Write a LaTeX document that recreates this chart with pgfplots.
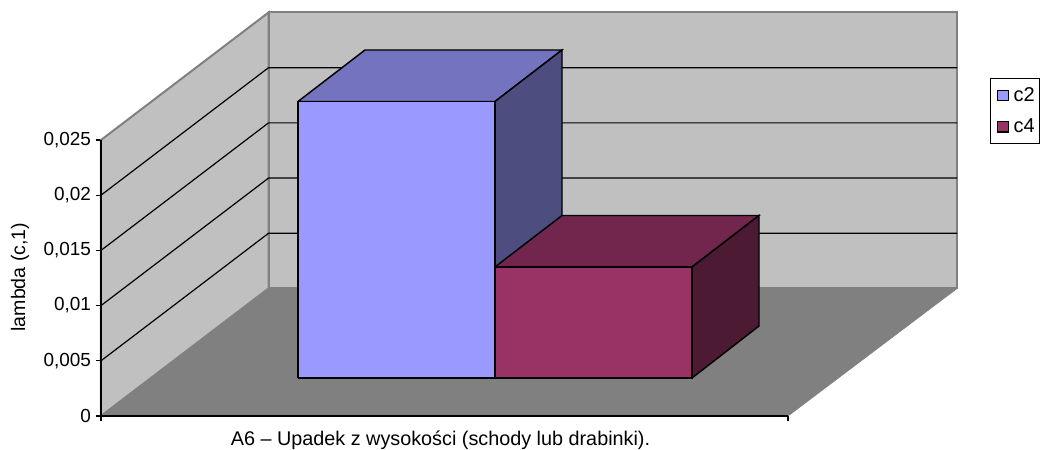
\documentclass[border=0pt]{standalone}
\usepackage{fontspec}
\setmainfont{Liberation Sans}
\usepackage{pgfplots}
\pgfplotsset{compat=1.18}
\definecolor{cwall}{HTML}{C0C0C0}
\definecolor{cfloor}{HTML}{808080}
\definecolor{cA}{HTML}{9999FF}
\definecolor{cAt}{HTML}{7373BF}
\definecolor{cAs}{HTML}{4D4D80}
\definecolor{cB}{HTML}{993366}
\definecolor{cBt}{HTML}{73264D}
\definecolor{cBs}{HTML}{4D1A33}
\begin{document}
\begin{tikzpicture}
\path[use as bounding box] (0,0) rectangle (782.25pt,337.5pt);
\begin{axis}[
  at={(75.75pt,25.5pt)}, anchor=south west,
  scale only axis, width=706.5pt, height=312pt,
  xmin=101, xmax=1043, ymin=0, ymax=0.037681,
  clip=false,
  axis x line=bottom, axis y line=left,
  axis line style={draw=none,-},
  tick style={black,line width=1pt},
  tick align=outside, major tick length=4pt,
  font=\fontsize{14.2}{16}\selectfont,
  ytick={0,0.005,0.01,0.015,0.02,0.025},
  scaled y ticks=false,
  yticklabel style={/pgf/number format/.cd,fixed,use comma,precision=3,assume math mode=true},
  xtick={101,788}, xticklabels={,},
  extra x ticks={440.5}, extra x tick labels={A6 – Upadek z wysokości (schody lub drabinki).},
  extra x tick style={major tick length=0pt,
     tick label style={font=\fontsize{14.85}{16}\selectfont,yshift=-7.5pt}},
  ylabel={lambda (c,1)},
  ylabel style={font=\fontsize{14.7}{16}\selectfont,at={(axis description cs:-0.086,0.334)},anchor=center},
  legend style={at={(axis cs:1040,0.03062)},anchor=north east,draw=black,line width=0.9pt,
     fill=white,inner xsep=2.5pt,inner ysep=5.75pt,
     row sep=9.5pt,nodes={inner sep=1pt},font=\fontsize{15}{16}\selectfont},
  legend cell align=left,
  legend image code/.code={\path[draw=none,fill=none] (-3pt,0) rectangle (11pt,0.1pt);\draw[#1,line width=0.9pt] (0pt,-4pt) rectangle (8pt,4pt);},
]
% walls and floor
\addplot[forget plot,fill=cwall,draw=cfloor,line width=1.5pt] coordinates {(101,0) (268.5,0.011549) (268.5,0.036549) (101,0.025) (101,0)};
\addplot[forget plot,fill=cwall,draw=cfloor,line width=1.5pt] coordinates {(268.5,0.011549) (957,0.011549) (957,0.036549) (268.5,0.036549) (268.5,0.011549)};
\addplot[forget plot,fill=cfloor,draw=cfloor,line width=0.5pt] coordinates {(101,0) (788,0) (957,0.011549) (268.5,0.011549) (101,0)};
% gridlines
\addplot[forget plot,black,line width=0.9pt] coordinates {(101,0.005) (268.5,0.016549) (957,0.016549)};
\addplot[forget plot,black,line width=0.9pt] coordinates {(101,0.01) (268.5,0.021549) (957,0.021549)};
\addplot[forget plot,black,line width=0.9pt] coordinates {(101,0.015) (268.5,0.026549) (957,0.026549)};
\addplot[forget plot,black,line width=0.9pt] coordinates {(101,0.02) (268.5,0.031549) (957,0.031549)};
% axis lines
\addplot[forget plot,black,line width=1.2pt] coordinates {(101,0.025) (101,0) (788,0)};
% c2 bar
\addplot[forget plot,fill=cAt,draw=black,line width=1.1pt] coordinates {(298,0.028487) (365,0.033152) (562,0.033152) (495,0.028487) (298,0.028487)};
\addplot[forget plot,fill=cAs,draw=black,line width=1.1pt] coordinates {(495,0.003442) (562,0.008152) (562,0.033152) (495,0.028487) (495,0.003442)};
\addplot[fill=cA,draw=black,line width=1.1pt] coordinates {(298,0.003442) (495,0.003442) (495,0.028487) (298,0.028487) (298,0.003442)};
\addlegendentry{c2}
% c4 bar
\addplot[forget plot,fill=cBt,draw=black,line width=1.1pt] coordinates {(495,0.013496) (562,0.018161) (759,0.018161) (692,0.013496) (495,0.013496)};
\addplot[forget plot,fill=cBs,draw=black,line width=1.1pt] coordinates {(692,0.003442) (759,0.008152) (759,0.018161) (692,0.013496) (692,0.003442)};
\addplot[fill=cB,draw=black,line width=1.1pt] coordinates {(495,0.003442) (692,0.003442) (692,0.013496) (495,0.013496) (495,0.003442)};
\addlegendentry{c4}
\end{axis}
\end{tikzpicture}
\end{document}
